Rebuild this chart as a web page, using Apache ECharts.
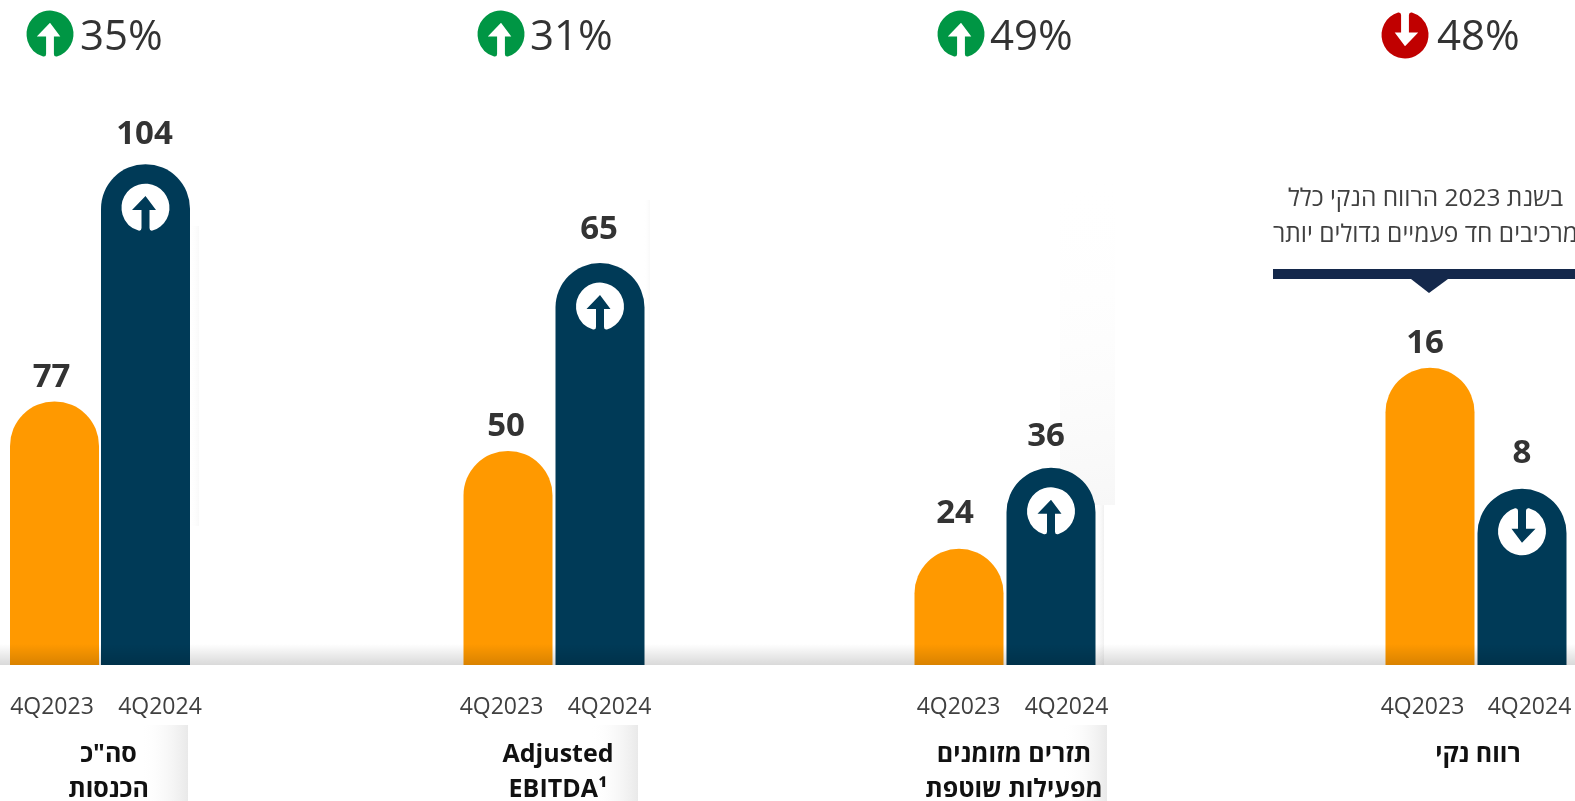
<!DOCTYPE html>
<html lang="he">
<head>
<meta charset="utf-8">
<title>chart</title>
<script src="https://cdn.jsdelivr.net/npm/echarts@6/dist/echarts.min.js"></script>
<style>
  html, body { margin: 0; padding: 0; background: #fff; }
  #main { width: 1575px; height: 801px; }
</style>
</head>
<body>
<div id="main"></div>
<script>
const categories = ['4Q2023', '4Q2024']
const values2023 = [77, 50, 24, 16]
const values2024 = [104, 65, 36, 8]
const changes = ['35%', '31%', '49%', '48%']
const panelNames = ['סה"כ\nהכנסות', 'Adjusted\nEBITDA¹', 'תזרים מזומנים\nמפעילות שוטפת', 'רווח נקי']
const noteText = 'בשנת 2023 הרווח הנקי כלל\nמרכיבים חד פעמיים גדולים יותר'

// every panel has its own truncated scale, the source bars are not on a common one
const axisMin = [47, 32.9, 6.8, -3.66]
const axisMax = [115.4, 80.9, 95.8, 36.1]

const orange = '#ff9900'
const navy = '#003a57'
const green = '#009644'
const red = '#c00000'
const textColor = '#333333'
const font = '"Open Sans", "DejaVu Sans", sans-serif'

const gridLeft = [9, 462, 913, 1384]
const gridWidth = [182, 184, 184, 184]
const labelShift = [[-2.5, 14.5], [-6.5, 9.5], [-0.5, 15.5], [-7.5, 7.5]]
const valueShift = [[[-3, 1], [-1, -5]], [[-2, 0], [-1, -9]], [[-4, -11], [-5, -7]], [[-5, 0], [0, -11]]]
const iconX = [26, 477, 937, 1381]
const changeX = [80, 530, 990, 1437]
const nameX = [108.5, 558, 1014, 1478]

// disc with an arrow cut through it, opens at the bottom
const arrowPath = 'M20 44 L20 26 L10.5 26 L24 12 L34.5 26 L28 26 L28 44 Q28 47 31 46.5 A24 24 0 1 0 17 46.5 Q20 47 20 44 Z'
echarts.graphic.registerShape('arrowDisc', echarts.graphic.extendPath(arrowPath, {}))

const grids = []
const xAxes = []
const yAxes = []
const series = []
const graphics = []

function softPanel (x, y, width, height, color, diagonal) {
  return {
    type: 'rect',
    z: 0,
    silent: true,
    shape: { x: x, y: y, width: width, height: height },
    style: {
      fill: new echarts.graphic.LinearGradient(0, 0, 1, diagonal ? 1 : 0, [
        { offset: 0, color: 'rgba(255,255,255,0)' },
        { offset: 1, color: color }
      ])
    }
  }
}

// faint leftovers of the slide shadows
graphics.push(softPanel(1060, 180, 55, 325, '#f7f7f7', true))
graphics.push(softPanel(1095, 505, 9, 160, '#f0f0f0'))
graphics.push(softPanel(190, 226, 9, 300, '#f9f9f9'))
graphics.push(softPanel(644, 200, 6, 310, '#f9f9f9'))
graphics.push(softPanel(140, 725, 48, 76, '#e9e9e9'))
graphics.push(softPanel(590, 725, 48, 76, '#e9e9e9'))
graphics.push(softPanel(1062, 725, 45, 76, '#e9e9e9'))

values2023.forEach((v, i) => {
  const falling = values2024[i] < v
  grids.push({ left: gridLeft[i], top: 64, width: gridWidth[i], height: 601 })
  xAxes.push({
    type: 'category',
    gridIndex: i,
    data: categories,
    axisLine: { show: false },
    axisTick: { show: false },
    axisLabel: {
      interval: 0,
      margin: 31,
      color: '#404040',
      fontFamily: font,
      fontSize: 23,
      formatter: function (value, idx) {
        return '{s' + idx + '|' + value + '}'
      },
      rich: {
        s0: {
          color: '#404040', fontFamily: font, fontSize: 23,
          padding: labelShift[i][0] < 0 ? [0, -2 * labelShift[i][0], 0, 0] : [0, 0, 0, 2 * labelShift[i][0]]
        },
        s1: {
          color: '#404040', fontFamily: font, fontSize: 23,
          padding: [0, 0, 0, 2 * labelShift[i][1]]
        }
      }
    }
  })
  yAxes.push({
    type: 'value',
    gridIndex: i,
    min: axisMin[i],
    max: axisMax[i],
    startValue: axisMin[i],
    show: false,
    splitLine: { show: false }
  })
  series.push({
    type: 'bar',
    xAxisIndex: i,
    yAxisIndex: i,
    barWidth: 89,
    z: 2,
    label: {
      show: true,
      position: 'top',
      distance: 8,
      color: textColor,
      fontFamily: font,
      fontSize: 33,
      fontWeight: 'bold'
    },
    data: [
      {
        value: v,
        itemStyle: { color: orange, borderRadius: [44.5, 44.5, 0, 0] },
        label: { offset: valueShift[i][0] }
      },
      {
        value: values2024[i],
        itemStyle: { color: navy, borderRadius: [44.5, 44.5, 0, 0] },
        label: { offset: valueShift[i][1] }
      }
    ]
  })
  series.push({
    type: 'scatter',
    xAxisIndex: i,
    yAxisIndex: i,
    z: 3,
    silent: true,
    symbol: 'path://' + arrowPath,
    symbolSize: 48,
    symbolKeepAspect: true,
    symbolRotate: falling ? 180 : 0,
    symbolOffset: [0, 43],
    itemStyle: { color: '#fff', opacity: 1 },
    data: [[1, values2024[i]]]
  })

  graphics.push({
    type: 'arrowDisc',
    z: 5,
    silent: true,
    x: iconX[i],
    y: 10.5,
    scaleX: 47 / 48,
    scaleY: 47 / 48,
    rotation: falling ? Math.PI : 0,
    originX: 24,
    originY: 24,
    style: { fill: falling ? red : green }
  })
  graphics.push({
    type: 'text',
    z: 5,
    x: changeX[i],
    y: 38,
    style: {
      text: changes[i],
      fill: textColor,
      font: '42px ' + font,
      textAlign: 'left',
      textVerticalAlign: 'middle'
    }
  })
  graphics.push({
    type: 'text',
    z: 5,
    x: nameX[i],
    y: 737,
    style: {
      text: panelNames[i],
      fill: '#111',
      font: 'bold 25px ' + font,
      lineHeight: 35,
      textAlign: 'center'
    }
  })
})

// note above the last panel
graphics.push({
  type: 'text',
  z: 5,
  x: 1425.5,
  y: 181,
  style: {
    text: noteText,
    fill: '#404040',
    font: '24.5px ' + font,
    lineHeight: 36,
    textAlign: 'center'
  }
})
graphics.push({
  type: 'rect',
  z: 5,
  shape: { x: 1273, y: 269, width: 302, height: 10 },
  style: { fill: '#14284b' }
})
graphics.push({
  type: 'polygon',
  z: 5,
  shape: { points: [[1411, 279], [1448, 279], [1429, 293]] },
  style: { fill: '#14284b' }
})
// floor shadow, it also darkens the foot of the bars
graphics.push({
  type: 'rect',
  z: 100,
  silent: true,
  shape: { x: 0, y: 644, width: 1575, height: 21 },
  style: {
    fill: new echarts.graphic.LinearGradient(0, 0, 0, 1, [
      { offset: 0, color: 'rgba(0,0,0,0)' },
      { offset: 1, color: 'rgba(0,0,0,0.15)' }
    ])
  }
})

const chart = echarts.init(document.getElementById('main'), null, { renderer: 'canvas' })
chart.setOption({
  backgroundColor: '#fff',
  animation: false,
  tooltip: { show: false },
  grid: grids,
  xAxis: xAxes,
  yAxis: yAxes,
  series: series,
  graphic: graphics
})
</script>
</body>
</html>
